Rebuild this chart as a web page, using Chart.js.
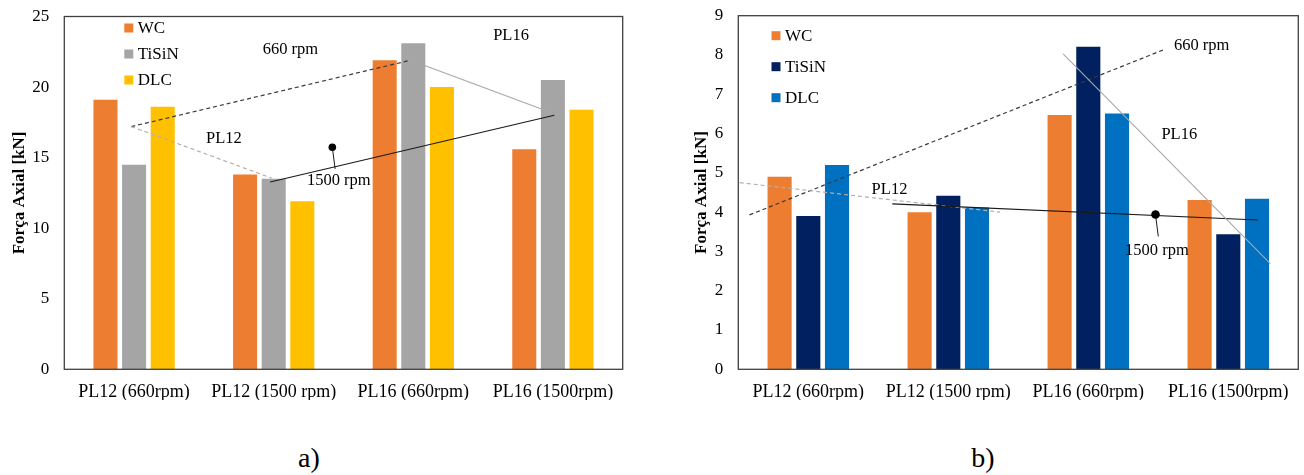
<!DOCTYPE html>
<html>
<head>
<meta charset="utf-8">
<script src="https://cdn.jsdelivr.net/npm/chart.js@4.4.1/dist/chart.umd.min.js"></script>
<style>
html, body { margin: 0; padding: 0; background: #fff; }
body { width: 1304px; height: 475px; position: relative; overflow: hidden; font-family: 'Liberation Serif', 'Times New Roman', serif; }
.box { position: absolute; top: 0; height: 400px; }
.cap { position: absolute; top: 444px; width: 100px; text-align: center; font-size: 28px; line-height: 28px; color: #000; }
</style>
</head>
<body>
<div class="box" style="left:0;width:640px"><canvas id="chartA"></canvas></div>
<div class="box" style="left:660px;width:644px"><canvas id="chartB"></canvas></div>
<div class="cap" style="left:259px">a)</div>
<div class="cap" style="left:933px">b)</div>
<script>
const categories = ['PL12 (660rpm)', 'PL12 (1500 rpm)', 'PL16 (660rpm)', 'PL16 (1500rpm)'];
const seriesNames = ['WC', 'TiSiN', 'DLC'];

// chart a)
const wcA = [19.1, 13.8, 21.9, 15.6];
const tisinA = [14.5, 13.5, 23.1, 20.5];
const dlcA = [18.6, 11.9, 20.0, 18.4];
const yTicksA = [0, 5, 10, 15, 20, 25];

// chart b)
const wcB = [4.9, 4.0, 6.47, 4.31];
const tisinB = [3.9, 4.42, 8.21, 3.44];
const dlcB = [5.2, 4.12, 6.51, 4.34];
const yTicksB = [0, 1, 2, 3, 4, 5, 6, 7, 8, 9];

// hand drawn trend lines, x = category index (0..3), y = kN
const trend660A = [{x: -0.02, y: 17.2}, {x: 1.98, y: 21.9}];
const trendPL12A = [{x: -0.02, y: 17.2}, {x: 0.985, y: 13.55}];
const trend1500A = [{x: 0.975, y: 13.27}, {x: 3.01, y: 18.0}];
const trendPL16A = [{x: 1.98, y: 21.9}, {x: 3.0, y: 18.15}];
const dotA = [{x: 1.42, y: 15.74}];
const leaderA = [{x: 1.42, y: 15.74}, {x: 1.44, y: 14.2}];
const notesA = ['660 rpm', 'PL12', 'PL16', '1500 rpm'];
const notesXA = [1.12, 0.643, 2.70, 1.466];
const notesYA = [22.66, 16.33, 23.65, 13.39];

const trend660B = [{x: -0.42, y: 3.93}, {x: 2.55, y: 8.15}];
const trendPL12B = [{x: -0.49, y: 4.75}, {x: 1.37, y: 4.0}];
const trend1500B = [{x: 0.6, y: 4.21}, {x: 3.21, y: 3.8}];
const trendPL16B = [{x: 1.82, y: 8.03}, {x: 3.30, y: 2.69}];
const dotB = [{x: 2.48, y: 3.94}];
const leaderB = [{x: 2.48, y: 3.94}, {x: 2.5, y: 3.38}];
const notesB = ['660 rpm', 'PL16', 'PL12', '1500 rpm'];
const notesXB = [2.81, 2.65, 0.58, 2.49];
const notesYB = [8.23, 5.98, 4.56, 3.03];

const serif = "'Liberation Serif', 'Times New Roman', serif";

// trend lines and dot go through the category scale (fractional index is fine there)
const sketchPlugin = {
    id: 'sketch',
    afterDatasetsDraw(chart, args, opts) {
        const {ctx, scales: {x, y}} = chart;
        ctx.save();
        opts.lines.forEach(l => {
            ctx.beginPath();
            ctx.strokeStyle = l.color;
            ctx.lineWidth = l.width;
            ctx.setLineDash(l.dash);
            l.pts.forEach((p, i) => {
                const px = x.getPixelForValue(p.x), py = y.getPixelForValue(p.y);
                if (i === 0) ctx.moveTo(px, py); else ctx.lineTo(px, py);
            });
            ctx.stroke();
        });
        ctx.setLineDash([]);
        ctx.fillStyle = '#000';
        opts.dot.forEach(p => {
            ctx.beginPath();
            ctx.arc(x.getPixelForValue(p.x), y.getPixelForValue(p.y), opts.dotR, 0, Math.PI * 2);
            ctx.fill();
        });
        ctx.restore();
    },
    afterDraw(chart, args, opts) {
        const {ctx, chartArea: a, scales: {x, y}} = chart;
        ctx.save();
        ctx.strokeStyle = '#404040';
        ctx.lineWidth = 1.3;
        ctx.strokeRect(a.left, a.top, a.right - a.left, a.bottom - a.top);

        ctx.fillStyle = '#000';
        ctx.font = '16.5px ' + serif;
        ctx.textAlign = 'center';
        ctx.textBaseline = 'middle';
        opts.notes.forEach((t, i) => {
            ctx.fillText(t, x.getPixelForValue(opts.nx[i]), y.getPixelForValue(opts.ny[i]));
        });

        // legend inside the plot, top left
        ctx.font = '17px ' + serif;
        ctx.textAlign = 'left';
        chart.data.datasets.forEach((d, i) => {
            const lx = a.left + opts.legX;
            const ly = a.top + opts.legY + i * opts.legStep;
            ctx.fillStyle = d.backgroundColor;
            ctx.fillRect(lx, ly - 4.5, 9, 9);
            ctx.fillStyle = '#000';
            ctx.fillText(d.label, lx + 13.5, ly + 1);
        });
        ctx.restore();
    }
};

function makeChart(id, s) {
    const datasets = [s.wc, s.tisin, s.dlc].map((v, i) => ({
        label: seriesNames[i], data: v,
        backgroundColor: s.colors[i], borderWidth: 0,
        categoryPercentage: 0.615, barPercentage: 0.84
    }));
    const lines = [
        {pts: s.t660, color: '#3a3a3a', dash: [4, 3], width: 1.2},
        {pts: s.tPL12, color: '#b0b0b0', dash: [4, 3], width: 1.2},
        {pts: s.t1500, color: '#1a1a1a', dash: [], width: 1.2},
        {pts: s.tPL16, color: '#a8a8a8', dash: [], width: 1.1},
        {pts: s.leader, color: '#1a1a1a', dash: [], width: 1}
    ];
    return new Chart(document.getElementById(id).getContext('2d'), {
        type: 'bar',
        data: {labels: categories, datasets: datasets},
        options: {
            responsive: true,
            maintainAspectRatio: false,
            animation: false,
            layout: {padding: {top: s.padTop, right: s.padRight, left: 0, bottom: 0}},
            scales: {
                x: {
                    grid: {display: false, drawTicks: false},
                    border: {display: false},
                    ticks: {color: '#000', font: {family: serif, size: 18}, padding: 12, maxRotation: 0, autoSkip: false},
                    afterFit: (sc) => { sc.height = s.xHeight; }
                },
                y: {
                    min: 0, max: s.yTicks[s.yTicks.length - 1],
                    grid: {display: false, drawTicks: false},
                    border: {display: false},
                    afterBuildTicks: (sc) => { sc.ticks = s.yTicks.map(v => ({value: v})); },
                    ticks: {color: '#000', font: {family: serif, size: 17}, padding: 15},
                    title: {
                        display: true, text: 'Força Axial [kN]', color: '#000',
                        font: {family: serif, size: 17, weight: 'bold'},
                        padding: {top: s.titlePad, bottom: 0}
                    },
                    afterFit: (sc) => {
                        sc.width = s.yWidth;
                        sc.paddingTop = 0;
                        sc.paddingBottom = 0;
                    }
                }
            },
            plugins: {
                legend: {display: false},
                tooltip: {enabled: false},
                sketch: {
                    lines: lines, dot: s.dot, dotR: s.dotR,
                    notes: s.notes, nx: s.nx, ny: s.ny,
                    legX: s.legX, legY: s.legY, legStep: s.legStep
                }
            }
        },
        plugins: [sketchPlugin]
    });
}

makeChart('chartA', {
    wc: wcA, tisin: tisinA, dlc: dlcA, yTicks: yTicksA,
    colors: ['#ED7D31', '#A5A5A5', '#FFC000'],
    t660: trend660A, tPL12: trendPL12A, t1500: trend1500A, tPL16: trendPL16A,
    dot: dotA, leader: leaderA, dotR: 3.8,
    notes: notesA, nx: notesXA, ny: notesYA,
    padTop: 16.5, padRight: 17.3, xHeight: 30.7, yWidth: 64.3, titlePad: 9,
    legX: 60, legY: 11.5, legStep: 26
});

makeChart('chartB', {
    wc: wcB, tisin: tisinB, dlc: dlcB, yTicks: yTicksB,
    colors: ['#ED7D31', '#002060', '#0070C0'],
    t660: trend660B, tPL12: trendPL12B, t1500: trend1500B, tPL16: trendPL16B,
    dot: dotB, leader: leaderB, dotR: 4.3,
    notes: notesB, nx: notesXB, ny: notesYB,
    padTop: 15.7, padRight: 5.7, xHeight: 30.7, yWidth: 78.3, titlePad: 31,
    legX: 33.2, legY: 20, legStep: 31
});
</script>
</body>
</html>
